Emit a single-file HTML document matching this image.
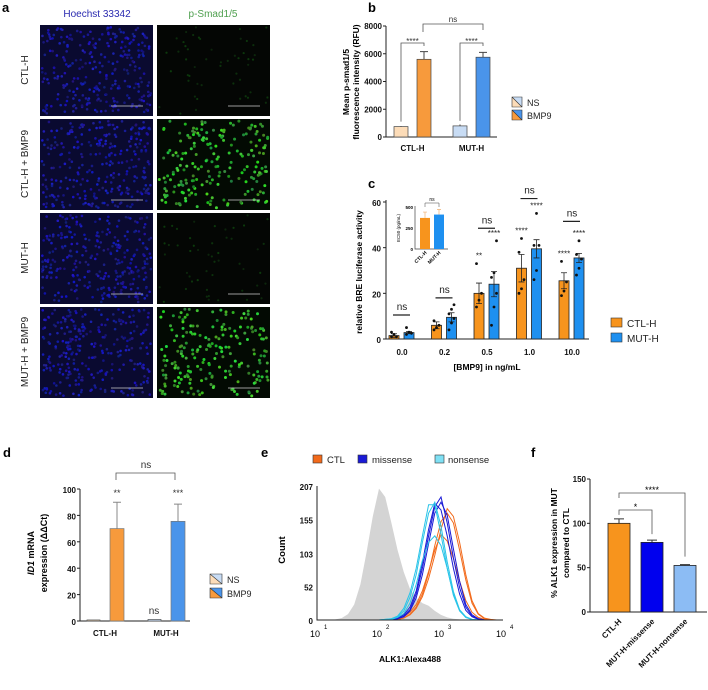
<!DOCTYPE html>
<html><head><meta charset="utf-8">
<style>
html,body{margin:0;padding:0;background:#fff;}
svg{display:block;font-family:"Liberation Sans",Arial,sans-serif;}
.tk{font-size:8px;font-weight:bold;fill:#111;}
.ax{stroke:#222;stroke-width:1;fill:none;}
.br{stroke:#555;stroke-width:0.8;fill:none;}
</style></head>
<body>
<svg id="fig" width="708" height="690" viewBox="0 0 708 690" xmlns="http://www.w3.org/2000/svg">
<text x="2" y="12" font-size="13" font-weight="bold">a</text>
<text x="368" y="12" font-size="13" font-weight="bold">b</text>
<text x="368" y="188" font-size="13" font-weight="bold">c</text>
<text x="3" y="457" font-size="13" font-weight="bold">d</text>
<text x="261" y="457" font-size="13" font-weight="bold">e</text>
<text x="531" y="457" font-size="13" font-weight="bold">f</text>

<text x="97" y="17" font-size="10" fill="#2a2ab0" text-anchor="middle">Hoechst 33342</text>
<text x="213" y="17" font-size="10" fill="#4fa04f" text-anchor="middle">p-Smad1/5</text>
<g id="micro"></g>
<text transform="translate(28,70) rotate(-90)" font-size="10" text-anchor="middle" fill="#222">CTL-H</text>
<text transform="translate(28,164) rotate(-90)" font-size="10" text-anchor="middle" fill="#222">CTL-H + BMP9</text>
<text transform="translate(28,258) rotate(-90)" font-size="10" text-anchor="middle" fill="#222">MUT-H</text>
<text transform="translate(28,352) rotate(-90)" font-size="10" text-anchor="middle" fill="#222">MUT-H + BMP9</text>

<g id="pb"></g>
<text transform="translate(349,82) rotate(-90)" font-size="8.5" font-weight="bold" text-anchor="middle">Mean p-smad1/5</text>
<text transform="translate(359,82) rotate(-90)" font-size="8.5" font-weight="bold" text-anchor="middle">fluorescence intensity (RFU)</text>

<g id="pc"></g>
<text transform="translate(362,272) rotate(-90)" font-size="8.5" font-weight="bold" text-anchor="middle">relative BRE luciferase activity</text>
<text x="487" y="370" font-size="8.5" font-weight="bold" text-anchor="middle">[BMP9] in ng/mL</text>

<g id="pd"></g>
<text transform="translate(34,553) rotate(-90)" font-size="9" font-weight="bold" text-anchor="middle"><tspan font-style="italic">ID1</tspan> mRNA</text>
<text transform="translate(47,553) rotate(-90)" font-size="9" font-weight="bold" text-anchor="middle">expression (ΔΔCt)</text>

<g id="pe"></g>
<text transform="translate(285,550) rotate(-90)" font-size="9.5" font-weight="bold" text-anchor="middle">Count</text>
<text x="410" y="662" font-size="8.5" font-weight="bold" text-anchor="middle">ALK1:Alexa488</text>

<g id="pf"></g>
<text transform="translate(557,543) rotate(-90)" font-size="8.5" font-weight="bold" text-anchor="middle">% ALK1 expression in MUT</text>
<text transform="translate(569,543) rotate(-90)" font-size="8.5" font-weight="bold" text-anchor="middle">compared to CTL</text>
</svg>

<script>
// ---------- data ----------
const bGroups = ['CTL-H','MUT-H'];
const bNS = [750, 800];
const bNSerr = [30, 100];
const bBMP = [5600, 5750];
const bBMPerr = [550, 350];
const bTicks = [0,2000,4000,6000,8000];
const cDoses = ['0.0','0.2','0.5','1.0','10.0'];
const cCTL = [1.5, 6, 20, 31, 25.5];
const cCTLerr = [0.8, 1.5, 4.5, 6, 3.5];
const cMUT = [2.8, 9.5, 24, 39.5, 35.5];
const cMUTerr = [0.5, 2, 5.5, 4, 2];
const cCTLdots = [[1,2,1,3],[4,5,6,8],[14,17,20,33],[20,22,26,38,44],[19,21,25,34]];
const cMUTdots = [[2,3,2.5,5],[4,7,9,11,13,15],[6,14,20,27,29,43],[26,30,41,41,55],[28,31,35,37,43]];
const cCTLstars = ['','','**','****','****'];
const cMUTstars = ['','','****','****','****'];
const cNsLevel = [10.5, 18, 48.5, 61.5, 51.5];
const cTicks = [0,20,40,60];
const inGroups = ['CTL-H','MUT-H'];
const inVals = [370, 410];
const inErr = [70, 60];
const inTicks = [0,250,500];
const dGroups = ['CTL-H','MUT-H'];
const dNS = [0.8, 1.2];
const dBMP = [70, 75.5];
const dBMPerr = [20, 13];
const dStars = ['**','***'];
const dTicks = [0,20,40,60,80,100];
const eGridStart = 1.0, eGridStep = 0.1;
const eTicks = [0,52,103,155,207];
const eGray = [0,0,0,1,3,9,24,55,105,160,203,190,150,108,74,48,34,26,22,14,8,4,2,1,0,0,0,0,0,0,0];
const eCTL = [
 [0,0,0,0,0,0,0,0,0,0,0,0,1,2,5,12,24,45,75,108,132,122,95,60,30,12,4,1,0,0,0],
 [0,0,0,0,0,0,0,0,0,0,0,0,0,1,3,8,18,36,64,100,140,172,160,120,70,30,10,3,1,0,0],
 [0,0,0,0,0,0,0,0,0,0,0,0,0,1,3,9,20,40,72,115,152,165,150,108,62,26,9,2,0,0,0]];
const eMis = [
 [0,0,0,0,0,0,0,0,0,0,0,0,1,3,8,20,45,88,140,180,170,130,80,40,15,5,1,0,0,0,0],
 [0,0,0,0,0,0,0,0,0,0,0,0,1,2,6,16,40,80,130,175,190,150,96,50,20,6,2,0,0,0,0],
 [0,0,0,0,0,0,0,0,0,0,0,0,1,2,5,14,34,70,118,165,182,162,110,60,24,8,2,0,0,0,0]];
const eNon = [
 [0,0,0,0,0,0,0,0,0,0,0,1,2,6,18,42,80,130,178,178,132,80,38,14,4,1,0,0,0,0,0],
 [0,0,0,0,0,0,0,0,0,0,0,1,2,5,14,35,70,120,165,182,145,90,44,16,5,1,0,0,0,0,0],
 [0,0,0,0,0,0,0,0,0,0,0,0,1,4,10,26,55,92,120,130,115,80,40,15,4,1,0,0,0,0,0]];
const fGroups = ['CTL-H','MUT-H-missense','MUT-H-nonsense'];
const fVals = [100, 78.5, 52.5];
const fErr = [5, 2.5, 1];
const fTicks = [0,50,100,150];

const NS='http://www.w3.org/2000/svg';
function mk(tag, attrs, parent){const e=document.createElementNS(NS,tag);for(const k in attrs)e.setAttribute(k,attrs[k]);parent.appendChild(e);return e;}
function txt(s, attrs, parent){const e=mk('text',attrs,parent);e.textContent=s;return e;}

// ---------- panel a ----------
(function(){
 const g=document.getElementById('micro');
 let seed=12345; const rnd=()=>{seed=(seed*1103515245+12345)%2147483648;return seed/2147483648;};
 const cols=[40,157], rows=[25,119,213,307], W=113, H=91;
 const rowNames=['ctl-h','ctl-h-bmp9','mut-h','mut-h-bmp9'];
 rows.forEach((y,ri)=>{cols.forEach((x,ci)=>{
  const bmp = ri%2===1;
  const r=mk('rect',{x:x,y:y,width:W,height:H,fill:ci===0?'#0a0a30':(bmp?'#030a03':'#040604')},g);
  
  
  const n = ci===0?280:(bmp?200:50);
  for(let i=0;i<n;i++){
   const cx=x+2+rnd()*(W-4), cy=y+2+rnd()*(H-4);
   let fill, rr;
   if(ci===0){fill='rgb('+(15+rnd()*20|0)+','+(15+rnd()*20|0)+','+(110+rnd()*90|0)+')';rr=1.3;}
   else if(bmp){fill='rgb('+(25+rnd()*50|0)+','+(120+rnd()*100|0)+','+(25+rnd()*40|0)+')';rr=1.5;}
   else{fill='rgb(12,'+(35+rnd()*25|0)+',12)';rr=1.1;}
   const c=mk('circle',{cx:cx,cy:cy,r:rr,fill:fill},g);
   
   
  }
  const sb=mk('line',{x1:x+W-42,x2:x+W-10,y1:y+H-10,y2:y+H-10,stroke:'#ccc','stroke-width':0.7},g);
  
  
 });});
})();

// ---------- panel b ----------
(function(){
 const g=document.getElementById('pb');
 const y=v=>137-v/8000*111;
 const xc=[401,460];
 const ax=mk('path',{d:'M386,26 V137 H497',class:'ax'},g);
 
 
 bTicks.forEach(t=>{
  const l=mk('line',{x1:383,x2:386,y1:y(t),y2:y(t),stroke:'#222'},g);
  
  
  const tl=txt(String(t),{x:382,y:y(t)+3,class:'tk','text-anchor':'end'},g);
  
  
 });
 const nsC=['#fcdcb8','#c8dcf4'], bC=['#f79a3c','#4a94ea'];
 bGroups.forEach((gn,i)=>{
  const x0=xc[i]-7;
  const e1=mk('line',{x1:x0+7,x2:x0+7,y1:y(bNS[i]+bNSerr[i]),y2:y(bNS[i]),stroke:'#444'},g);
  
  
  const b1=mk('rect',{x:x0,y:y(bNS[i]),width:14,height:137-y(bNS[i]),fill:nsC[i],stroke:'#444','stroke-width':0.7},g);
  
  
  const x1=xc[i]+16;
  const e2=mk('path',{d:`M${x1+7},${y(bBMP[i])} V${y(bBMP[i]+bBMPerr[i])} M${x1+3},${y(bBMP[i]+bBMPerr[i])} H${x1+11}`,stroke:'#444',fill:'none'},g);
  
  
  const b2=mk('rect',{x:x1,y:y(bBMP[i]),width:14,height:137-y(bBMP[i]),fill:bC[i],stroke:'#444','stroke-width':0.7},g);
  
  
  const br=mk('path',{d:`M${xc[i]},${y(bNS[i])-5} V43 H${x1+7} V46`,class:'br'},g);
  
  
  const st=txt('****',{x:(xc[i]+x1+7)/2,y:44,'font-size':8,'text-anchor':'middle',fill:'#333'},g);
  
  
  const xl=txt(gn,{x:(xc[i]+x1+7)/2,y:151,class:'tk','text-anchor':'middle'},g);
  
  
 });
 const nb=mk('path',{d:'M423,32 V24 H483 V30',class:'br'},g);
 
 
 const nt=txt('ns',{x:453,y:22,'font-size':8,'text-anchor':'middle',fill:'#333'},g);
 
 
 [['NS',102,'#fcdcb8','#c8dcf4'],['BMP9',115,'#f79a3c','#4a94ea']].forEach(l=>{
  const p1=mk('polygon',{points:`512,${l[1]-5} 512,${l[1]+5} 522,${l[1]+5}`,fill:l[2]},g);
  
  
  const p2=mk('polygon',{points:`512,${l[1]-5} 522,${l[1]-5} 522,${l[1]+5}`,fill:l[3]},g);
  
  
  const r=mk('path',{d:`M512,${l[1]-5} h10 v10 h-10 z M512,${l[1]-5} L522,${l[1]+5}`,stroke:'#333','stroke-width':0.6,fill:'none'},g);
  
  
  const t=txt(l[0],{x:527,y:l[1]+4,'font-size':9,fill:'#222'},g);
  
  
 });
})();

// ---------- panel c ----------
(function(){
 const g=document.getElementById('pc');
 const y=v=>339-v/60*137;
 const xc=i=>402+i*42.5;
 const ax=mk('path',{d:'M386,200 V339 H589',class:'ax'},g);
 
 
 cTicks.forEach(t=>{
  const l=mk('line',{x1:383,x2:386,y1:y(t),y2:y(t),stroke:'#222'},g);
  
  
  const tl=txt(String(t),{x:381,y:y(t)+4,class:'tk','font-size':10,'text-anchor':'end'},g);
  
  
 });
 function bar(x,v,err,dots,fill,name,stars){
  const e=mk('path',{d:`M${x+5},${y(v-err)} V${y(v+err)} M${x+2},${y(v+err)} H${x+8} M${x+2},${y(v-err)} H${x+8}`,stroke:'#222','stroke-width':0.8,fill:'none'},g);
  const b=mk('rect',{x:x,y:y(v),width:10,height:339-y(v),fill:fill,stroke:'#222','stroke-width':0.8},g);
  
  
  g.appendChild(e);
  
  
  dots.forEach((d,k)=>{
   const c=mk('circle',{cx:x+5+((k%3)-1)*2.5,cy:y(d),r:1.4,fill:'#111'},g);
   
   
  });
  if(stars){
   const st=txt(stars,{x:x+5,y:y(Math.max(...dots))-5,'font-size':8,'text-anchor':'middle',fill:'#222'},g);
   
   
  }
 }
 cDoses.forEach((d,i)=>{
  bar(xc(i)-13,cCTL[i],cCTLerr[i],cCTLdots[i],'#f7941d','c-bar-ctl-'+d,cCTLstars[i]);
  bar(xc(i)+2,cMUT[i],cMUTerr[i],cMUTdots[i],'#1e90f0','c-bar-mut-'+d,cMUTstars[i]);
  const nl=mk('line',{x1:xc(i)-9,x2:xc(i)+8,y1:y(cNsLevel[i]),y2:y(cNsLevel[i]),stroke:'#222','stroke-width':1.2},g);
  
  
  const nt=txt('ns',{x:xc(i),y:y(cNsLevel[i])-5,'font-size':10,'text-anchor':'middle',fill:'#222'},g);
  
  
  const xl=txt(d,{x:xc(i),y:355,class:'tk','font-size':10,'text-anchor':'middle'},g);
  
  
 });
 const yi=v=>249-v/500*42;
 const iax=mk('path',{d:'M415,206 V249 H448',stroke:'#444','stroke-width':0.7,fill:'none'},g);
 
 
 inTicks.forEach(t=>{
  const tl=txt(String(t),{x:413,y:yi(t)+2,'font-size':4.5,'font-weight':'bold','text-anchor':'end'},g);
  
  
 });
 const inC=['#f7941d','#1e90f0'];
 inGroups.forEach((gn,i)=>{
  const x=420+i*14;
  const e=mk('path',{d:`M${x+5},${yi(inVals[i])} V${yi(inVals[i]+inErr[i])} M${x+3},${yi(inVals[i]+inErr[i])} H${x+7}`,stroke:'#f0b070','stroke-width':0.7,fill:'none'},g);
  
  
  const b=mk('rect',{x:x,y:yi(inVals[i]),width:10,height:249-yi(inVals[i]),fill:inC[i]},g);
  
  
  const xl=txt(gn,{transform:`translate(${x+7},253) rotate(-45)`,'font-size':5,'font-weight':'bold','text-anchor':'end'},g);
  
  
 });
 const ib=mk('path',{d:'M425,207 V203 H439 V207',stroke:'#444','stroke-width':0.5,fill:'none'},g);
 
 
 const it=txt('ns',{x:432,y:201,'font-size':5,'text-anchor':'middle'},g);
 
 
 const iy=txt('EC50 (pg/mL)',{transform:'translate(400,228) rotate(-90)','font-size':4.5,'text-anchor':'middle'},g);
 
 
 [['CTL-H',323,'#f7941d'],['MUT-H',338,'#1e90f0']].forEach(l=>{
  const r=mk('rect',{x:611,y:l[1]-5,width:11,height:9,fill:l[2],stroke:'#333','stroke-width':0.6},g);
  
  
  const t=txt(l[0],{x:627,y:l[1]+4,'font-size':10,fill:'#222'},g);
  
  
 });
})();

// ---------- panel d ----------
(function(){
 const g=document.getElementById('pd');
 const y=v=>621-v*1.32;
 const xc=[93,154];
 const ax=mk('path',{d:'M80,489 V621 H190',class:'ax'},g);
 
 
 dTicks.forEach(t=>{
  const l=mk('line',{x1:77,x2:80,y1:y(t),y2:y(t),stroke:'#222'},g);
  
  
  const tl=txt(String(t),{x:76,y:y(t)+4,class:'tk','font-size':10,'text-anchor':'end'},g);
  
  
 });
 const nsC=['#fcdcb8','#c8dcf4'], bC=['#f79a3c','#4a94ea'];
 dGroups.forEach((gn,i)=>{
  const b1=mk('rect',{x:xc[i]-6,y:y(dNS[i]),width:13,height:621-y(dNS[i]),fill:nsC[i],stroke:'#555','stroke-width':0.7},g);
  
  
  const x1=xc[i]+17;
  const e=mk('path',{d:`M${x1+7},${y(dBMP[i])} V${y(dBMP[i]+dBMPerr[i])} M${x1+3},${y(dBMP[i]+dBMPerr[i])} H${x1+11}`,stroke:'#888',fill:'none'},g);
  
  
  const b2=mk('rect',{x:x1,y:y(dBMP[i]),width:14,height:621-y(dBMP[i]),fill:bC[i],stroke:'#777','stroke-width':0.7},g);
  
  
  const st=txt(dStars[i],{x:x1+7,y:496,'font-size':9,'text-anchor':'middle',fill:'#333'},g);
  
  
  const xl=txt(gn,{x:(xc[i]+x1+7)/2,y:636,class:'tk','font-size':9,'text-anchor':'middle'},g);
  
  
 });
 const nt=txt('ns',{x:154,y:614,'font-size':10,'text-anchor':'middle',fill:'#333'},g);
 
 
 const nb=mk('path',{d:'M116,480 V473 H175 V480',class:'br'},g);
 
 
 const nt2=txt('ns',{x:146,y:468,'font-size':10,'text-anchor':'middle',fill:'#333'},g);
 
 
 [['NS',579,'#fcdcb8','#c8dcf4'],['BMP9',593,'#f79a3c','#4a94ea']].forEach(l=>{
  const p1=mk('polygon',{points:`210,${l[1]-5} 210,${l[1]+5} 222,${l[1]+5}`,fill:l[2]},g);
  
  
  const p2=mk('polygon',{points:`210,${l[1]-5} 222,${l[1]-5} 222,${l[1]+5}`,fill:l[3]},g);
  
  
  const r=mk('path',{d:`M210,${l[1]-5} h12 v10 h-12 z M210,${l[1]-5} L222,${l[1]+5}`,stroke:'#333','stroke-width':0.6,fill:'none'},g);
  
  
  const t=txt(l[0],{x:227,y:l[1]+4,'font-size':9,fill:'#222'},g);
  
  
 });
})();

// ---------- panel e ----------
(function(){
 const g=document.getElementById('pe');
 const x=l=>317+(l-1)*62;
 const y=v=>620-v/207*134;
 function pts(arr){return arr.map((v,i)=>x(eGridStart+i*eGridStep)+','+y(v)).join(' ');}
 const gp=mk('polygon',{points:x(1)+','+y(0)+' '+pts(eGray)+' '+x(4)+','+y(0),fill:'#d4d4d4'},g);
 
 
 [[eCTL,'#f26a1b','ctl'],[eMis,'#1a1ad6','missense'],[eNon,'#29c4e8','nonsense']].forEach(s=>{
  s[0].forEach((arr,k)=>{
   const p=mk('polyline',{points:pts(arr),fill:'none',stroke:s[1],'stroke-width':1},g);
   
   
  });
 });
 const ax=mk('path',{d:'M317,486 V620 H503',class:'ax'},g);
 
 
 eTicks.forEach(t=>{
  const tl=txt(String(t),{x:313,y:y(t)+4,class:'tk','font-size':9,'text-anchor':'end'},g);
  
  
 });
 [1,2,3,4].forEach(e=>{
  const tl=txt('10',{x:x(e)-2,y:637,'font-size':9,'text-anchor':'middle'},g);
  
  
  const sp=txt(String(e),{x:x(e)+7,y:629,'font-size':6},g);
  
  
 });
 [['CTL',313,327,'#f26a1b'],['missense',358,372,'#1a1ad6'],['nonsense',435,448,'#7fe0f4']].forEach(l=>{
  const r=mk('rect',{x:l[1],y:455,width:9,height:8,fill:l[3],stroke:'#333','stroke-width':0.6},g);
  
  
  const t=txt(l[0],{x:l[2],y:463,'font-size':9.5,fill:'#222'},g);
  
  
 });
})();

// ---------- panel f ----------
(function(){
 const g=document.getElementById('pf');
 const y=v=>612-v/150*133;
 const xc=i=>619+i*33;
 const fC=['#f7941d','#0000ee','#8cbcf4'];
 const ax=mk('path',{d:'M590,479 V612 H707',class:'ax'},g);
 
 
 fTicks.forEach(t=>{
  const l=mk('line',{x1:587,x2:590,y1:y(t),y2:y(t),stroke:'#222'},g);
  
  
  const tl=txt(String(t),{x:586,y:y(t)+3,class:'tk','text-anchor':'end'},g);
  
  
 });
 fGroups.forEach((gn,i)=>{
  const e=mk('path',{d:`M${xc(i)},${y(fVals[i])} V${y(fVals[i]+fErr[i])} M${xc(i)-5},${y(fVals[i]+fErr[i])} H${xc(i)+5}`,stroke:'#333',fill:'none'},g);
  
  
  const b=mk('rect',{x:xc(i)-11,y:y(fVals[i]),width:22,height:612-y(fVals[i]),fill:fC[i],stroke:'#222','stroke-width':0.8},g);
  
  
  const xl=txt(gn,{transform:`translate(${xc(i)+3},622) rotate(-45)`,class:'tk','font-size':8.5,'text-anchor':'end'},g);
  
  
 });
 const b1=mk('path',{d:`M${xc(0)},${y(fVals[0]+fErr[0])-4} V510 H${xc(1)} V${y(fVals[1]+fErr[1])-6}`,class:'br'},g);
 
 
 const s1=txt('*',{x:(xc(0)+xc(1))/2,y:510,'font-size':9,'text-anchor':'middle'},g);
 
 
 const b2=mk('path',{d:`M${xc(0)},498 V493 H${xc(2)} V${y(fVals[2]+fErr[2])-8}`,class:'br'},g);
 
 
 const s2=txt('****',{x:(xc(0)+xc(2))/2,y:493,'font-size':9,'text-anchor':'middle'},g);
 
 
})();
</script>
</body></html>
